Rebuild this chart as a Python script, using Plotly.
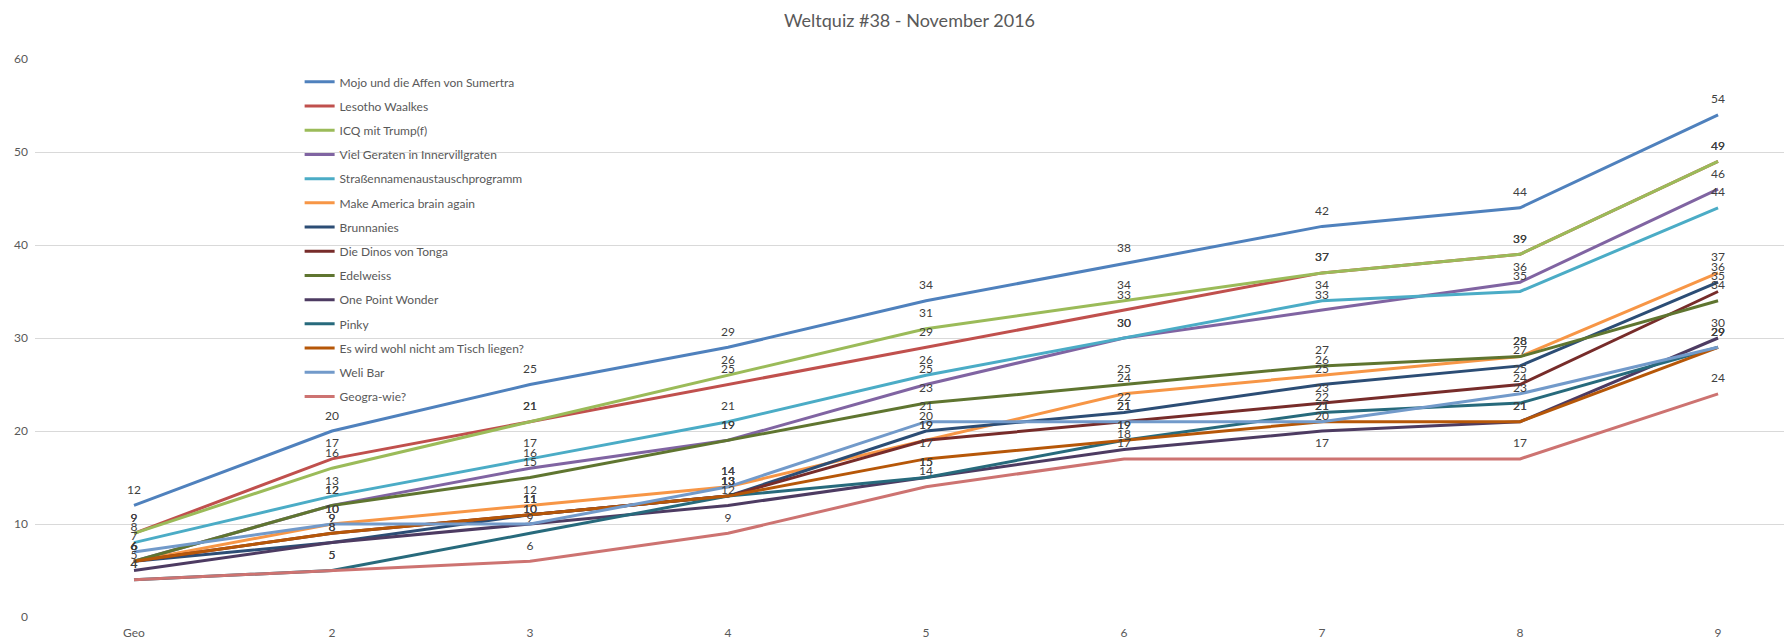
import plotly.graph_objects as go

categories = ["Geo", "2", "3", "4", "5", "6", "7", "8", "9"]

team_names = [
    "Mojo und die Affen von Sumertra",
    "Lesotho Waalkes",
    "ICQ mit Trump(f)",
    "Viel Geraten in Innervillgraten",
    "Straßennamenaustauschprogramm",
    "Make America brain again",
    "Brunnanies",
    "Die Dinos von Tonga",
    "Edelweiss",
    "One Point Wonder",
    "Pinky",
    "Es wird wohl nicht am Tisch liegen?",
    "Weli Bar",
    "Geogra-wie?",
]

mojo = [12, 20, 25, 29, 34, 38, 42, 44, 54]
lesotho = [9, 17, 21, 25, 29, 33, 37, 39, 49]
icq = [9, 16, 21, 26, 31, 34, 37, 39, 49]
viel = [6, 12, 16, 19, 25, 30, 33, 36, 46]
strassen = [8, 13, 17, 21, 26, 30, 34, 35, 44]
make_america = [6, 10, 12, 14, 19, 24, 26, 28, 37]
brunnanies = [6, 8, 11, 13, 20, 22, 25, 27, 36]
dinos = [6, 9, 11, 13, 19, 21, 23, 25, 35]
edelweiss = [6, 12, 15, 19, 23, 25, 27, 28, 34]
one_point = [5, 8, 10, 12, 15, 18, 20, 21, 30]
pinky = [4, 5, 9, 13, 15, 19, 22, 23, 29]
es_wird = [6, 9, 11, 13, 17, 19, 21, 21, 29]
weli_bar = [7, 10, 10, 14, 21, 21, 21, 24, 29]
geogra = [4, 5, 6, 9, 14, 17, 17, 17, 24]

series_values = [mojo, lesotho, icq, viel, strassen, make_america, brunnanies,
                 dinos, edelweiss, one_point, pinky, es_wird, weli_bar, geogra]

colors = ["#4F81BD", "#C0504D", "#9BBB59", "#8064A2", "#4BACC6", "#F79646",
          "#2C4D75", "#772C2A", "#5F7530", "#4D3B62", "#276A7C", "#B65708",
          "#729ACA", "#CD7371"]

FONT = "Lato, 'Open Sans', sans-serif"

fig = go.Figure()

for i, (name, vals) in enumerate(zip(team_names, series_values)):
    fig.add_trace(go.Scatter(
        x=categories, y=vals, name=name, mode="lines",
        line=dict(color=colors[i], width=3),
        legendgroup=f"g{i}", hoverinfo="skip",
    ))

for i, vals in enumerate(series_values):
    fig.add_trace(go.Scatter(
        x=categories, y=vals, mode="markers+text",
        text=[str(v) for v in vals], textposition="top center",
        textfont=dict(family=FONT, size=12, color="#404040"),
        marker=dict(size=12, color="rgba(0,0,0,0)"),
        showlegend=False, hoverinfo="skip", cliponaxis=False,
    ))

fig.update_layout(
    width=1784, height=642,
    margin=dict(l=35, r=0, t=59, b=25),
    paper_bgcolor="white", plot_bgcolor="white",
    title=dict(text="Weltquiz #38 - November 2016", x=0.5, xref="paper",
               y=1 - 21 / 642, yanchor="middle",
               font=dict(family=FONT, size=18, color="#595959")),
    font=dict(family=FONT, size=12, color="#595959"),
    showlegend=True,
    legend=dict(x=0.1513, xanchor="left", y=0.985, yanchor="top",
                bgcolor="rgba(0,0,0,0)", traceorder="grouped",
                tracegroupgap=5.2,
                font=dict(family=FONT, size=12, color="#595959")),
    xaxis=dict(type="category", range=[-0.5, 8.333], showgrid=False,
               showline=False, zeroline=False, ticks="",
               ticklabelstandoff=7,
               tickfont=dict(family=FONT, size=12, color="#595959")),
    yaxis=dict(range=[0, 60], dtick=10, showgrid=True, gridcolor="#D9D9D9",
               gridwidth=1, zeroline=False, showline=False, ticks="",
               ticklabelstandoff=6,
               tickfont=dict(family=FONT, size=12, color="#595959")),
)

fig.write_html(
    "out.html",
    config={"displayModeBar": False},
    post_script="document.body.style.margin='0';document.body.style.overflow='hidden';",
)
